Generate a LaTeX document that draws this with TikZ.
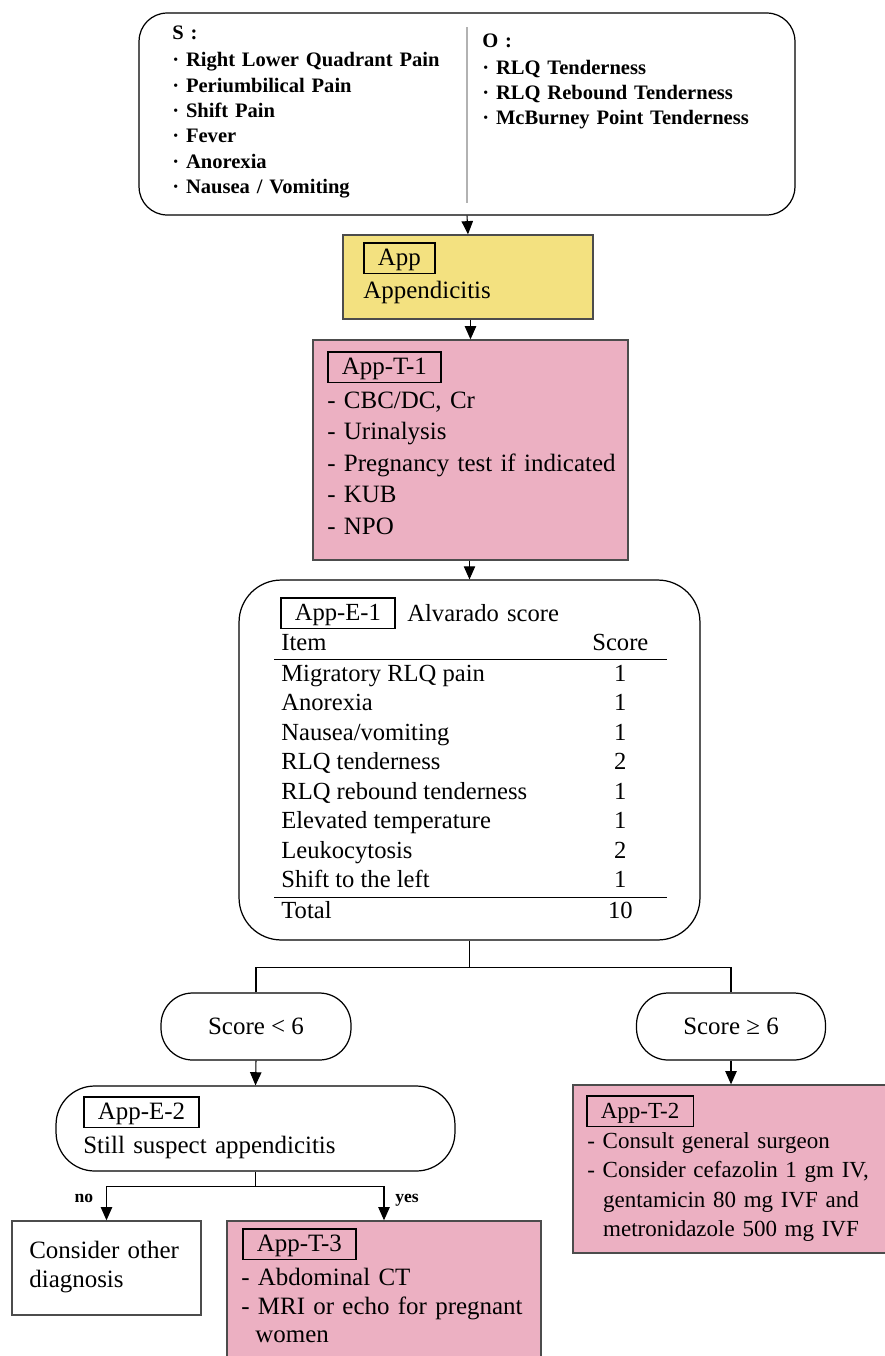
\documentclass[tikz,border=0pt]{standalone}
\usepackage{fontspec}
\setmainfont{Liberation Serif}
\usetikzlibrary{arrows.meta,calc,positioning}

\definecolor{appyellow}{RGB}{243,225,128}
\definecolor{apppink}{RGB}{236,176,194}

\newcommand\sofont{\fontsize{11.7}{14.4}\selectfont\bfseries}
\newcommand\bodyfont{\fontsize{14.2}{18}\selectfont}
\newcommand\tabfont{\fontsize{14}{16.8}\selectfont}
\newcommand\smallbody{\fontsize{13.1}{16.8}\selectfont}
\newcommand\labfont{\fontsize{10}{12}\selectfont\bfseries}

\tikzset{
  rbox/.style={draw, line width=0.7pt, rounded corners=#1},
  sqbox/.style={draw=black!70, line width=0.8pt},
  tag/.style={draw, line width=0.9pt, anchor=north west, inner xsep=8pt, inner ysep=2pt, text height=11pt, text depth=2.5pt},
  txt/.style={anchor=base west, inner sep=0pt, align=left, text width=9cm},
  arr/.style={-{Triangle[length=7.5pt,width=6.5pt]}, line width=0.6pt},
  link/.style={line width=0.6pt}
}

\begin{document}
\begin{tikzpicture}[x=0.02cm, y=-0.02cm]
  \useasboundingbox (0,0) rectangle (885,1356);

  % S / O findings
  \node[rbox=16pt, minimum width=13.12cm, minimum height=4.04cm] (so) at (467,114) {};
  \draw[gray!60, line width=0.6pt] (467,27) -- (467,203);
  \node[txt, font=\sofont] (subj) at (172,39) {S :\\[1.5pt]
    · Right Lower Quadrant Pain\\ · Periumbilical Pain\\ · Shift Pain\\
    · Fever\\ · Anorexia\\ · Nausea / Vomiting};
  \node[txt, font=\sofont] (obj) at (482,47) {O :\\[1pt]
    · RLQ Tenderness\\ · RLQ Rebound Tenderness\\ · McBurney Point Tenderness};

  % App
  \node[sqbox, fill=appyellow, minimum width=5cm, minimum height=1.68cm] (app) at (468,277) {};
  \node[tag, font=\bodyfont] (apptag) at (363,242) {App};
  \node[txt, font=\bodyfont] (apptxt) at (363,298) {Appendicitis};

  % App-T-1
  \node[sqbox, fill=apppink, minimum width=6.3cm, minimum height=4.4cm] (t1) at (470.5,450) {};
  \node[tag, font=\bodyfont] (t1tag) at (327,351) {App-T-1};
  \node[txt, font=\bodyfont] (t1txt) at (327,408) {- CBC/DC, Cr\\ - Urinalysis\\
    - Pregnancy test if indicated\\ - KUB\\ - NPO};

  % App-E-1 : Alvarado score
  \node[rbox=24pt, minimum width=9.22cm, minimum height=7.2cm] (e1) at (469.5,760) {};
  \node[tag, font=\tabfont] (e1tag) at (280,597) {App-E-1};
  \node[txt, font=\tabfont] (e1title) at (407,621) {Alvarado score};
  \node[anchor=base west, inner sep=0pt, font=\tabfont] (e1tab) at (274,650) {%
    \setlength{\tabcolsep}{0pt}\setlength{\arrayrulewidth}{0.9pt}%
    \begin{tabular}[t]{@{\hspace{4pt}}p{177pt}c@{\hspace{10.8pt}}}
      Item & Score\\ \hline
      Migratory RLQ pain & 1\\
      Anorexia & 1\\
      Nausea/vomiting & 1\\
      RLQ tenderness & 2\\
      RLQ rebound tenderness & 1\\
      Elevated temperature & 1\\
      Leukocytosis & 2\\
      Shift to the left & 1\\ \hline
      Total & 10
    \end{tabular}};

  % score branches
  \coordinate (fork) at ($(e1.south)+(0,27)$);
  \node[rbox=18pt, minimum width=3.8cm, minimum height=1.34cm, font=\bodyfont] (lo) at (256,1026.5) {Score < 6};
  \node[rbox=18pt, minimum width=3.78cm, minimum height=1.34cm, font=\bodyfont] (hi) at (731,1026.5) {Score ≥ 6};

  % App-E-2
  \node[rbox=22pt, minimum width=7.98cm, minimum height=1.7cm] (e2) at (255.5,1128.5) {};
  \node[tag, font=\bodyfont] (e2tag) at (83,1096) {App-E-2};
  \node[txt, font=\bodyfont] (e2txt) at (83,1153) {Still suspect appendicitis};

  % App-T-2
  \node[sqbox, fill=apppink, minimum width=6.54cm, minimum height=3.36cm] (t2) at (736.5,1169) {};
  \node[tag, font=\smallbody] (t2tag) at (586,1095) {App-T-2};
  \node[txt, font=\smallbody] (t2txt) at (587,1148) {- Consult general surgeon\\
    - Consider cefazolin 1 gm IV,\\ \hspace*{9pt}gentamicin 80 mg IVF and\\
    \hspace*{9pt}metronidazole 500 mg IVF};

  % no / yes
  \coordinate (fork2) at ($(e2.south)+(0,15)$);
  \node[sqbox, minimum width=3.78cm, minimum height=1.88cm] (other) at (106.5,1268) {};
  \node[txt, font=\bodyfont] (othertxt) at (29,1258) {Consider other\\[-1pt] diagnosis};
  \node[sqbox, fill=apppink, minimum width=6.28cm, minimum height=2.98cm] (t3) at (384,1295.5) {};
  \node[tag, font=\bodyfont] (t3tag) at (242,1228) {App-T-3};
  \node[txt, font=\bodyfont] (t3txt) at (241,1285) {- Abdominal CT\\[-1pt]
    - MRI or echo for pregnant\\[-2pt] \hspace*{8pt}women};
  \node[anchor=base, font=\labfont] (nolab) at (84,1202) {no};
  \node[anchor=base, font=\labfont] (yeslab) at (407,1202) {yes};

  % connectors
  \draw[arr] (so.south) -- (app.north);
  \draw[arr] (t1.north |- app.south) -- (t1.north);
  \draw[arr] (e1.north |- t1.south) -- (e1.north);
  \draw[link] (e1.south) -- (fork);
  \draw[link] (lo.north) |- (fork) -| (hi.north);
  \draw[arr] (lo.south) -- (e2.north);
  \draw[arr] (hi.south) -- (hi.south |- t2.north);
  \draw[link] (e2.south) -- (fork2);
  \draw[arr] (fork2) -| (other.north);
  \draw[arr] (fork2) -| (t3.north);
\end{tikzpicture}
\end{document}
